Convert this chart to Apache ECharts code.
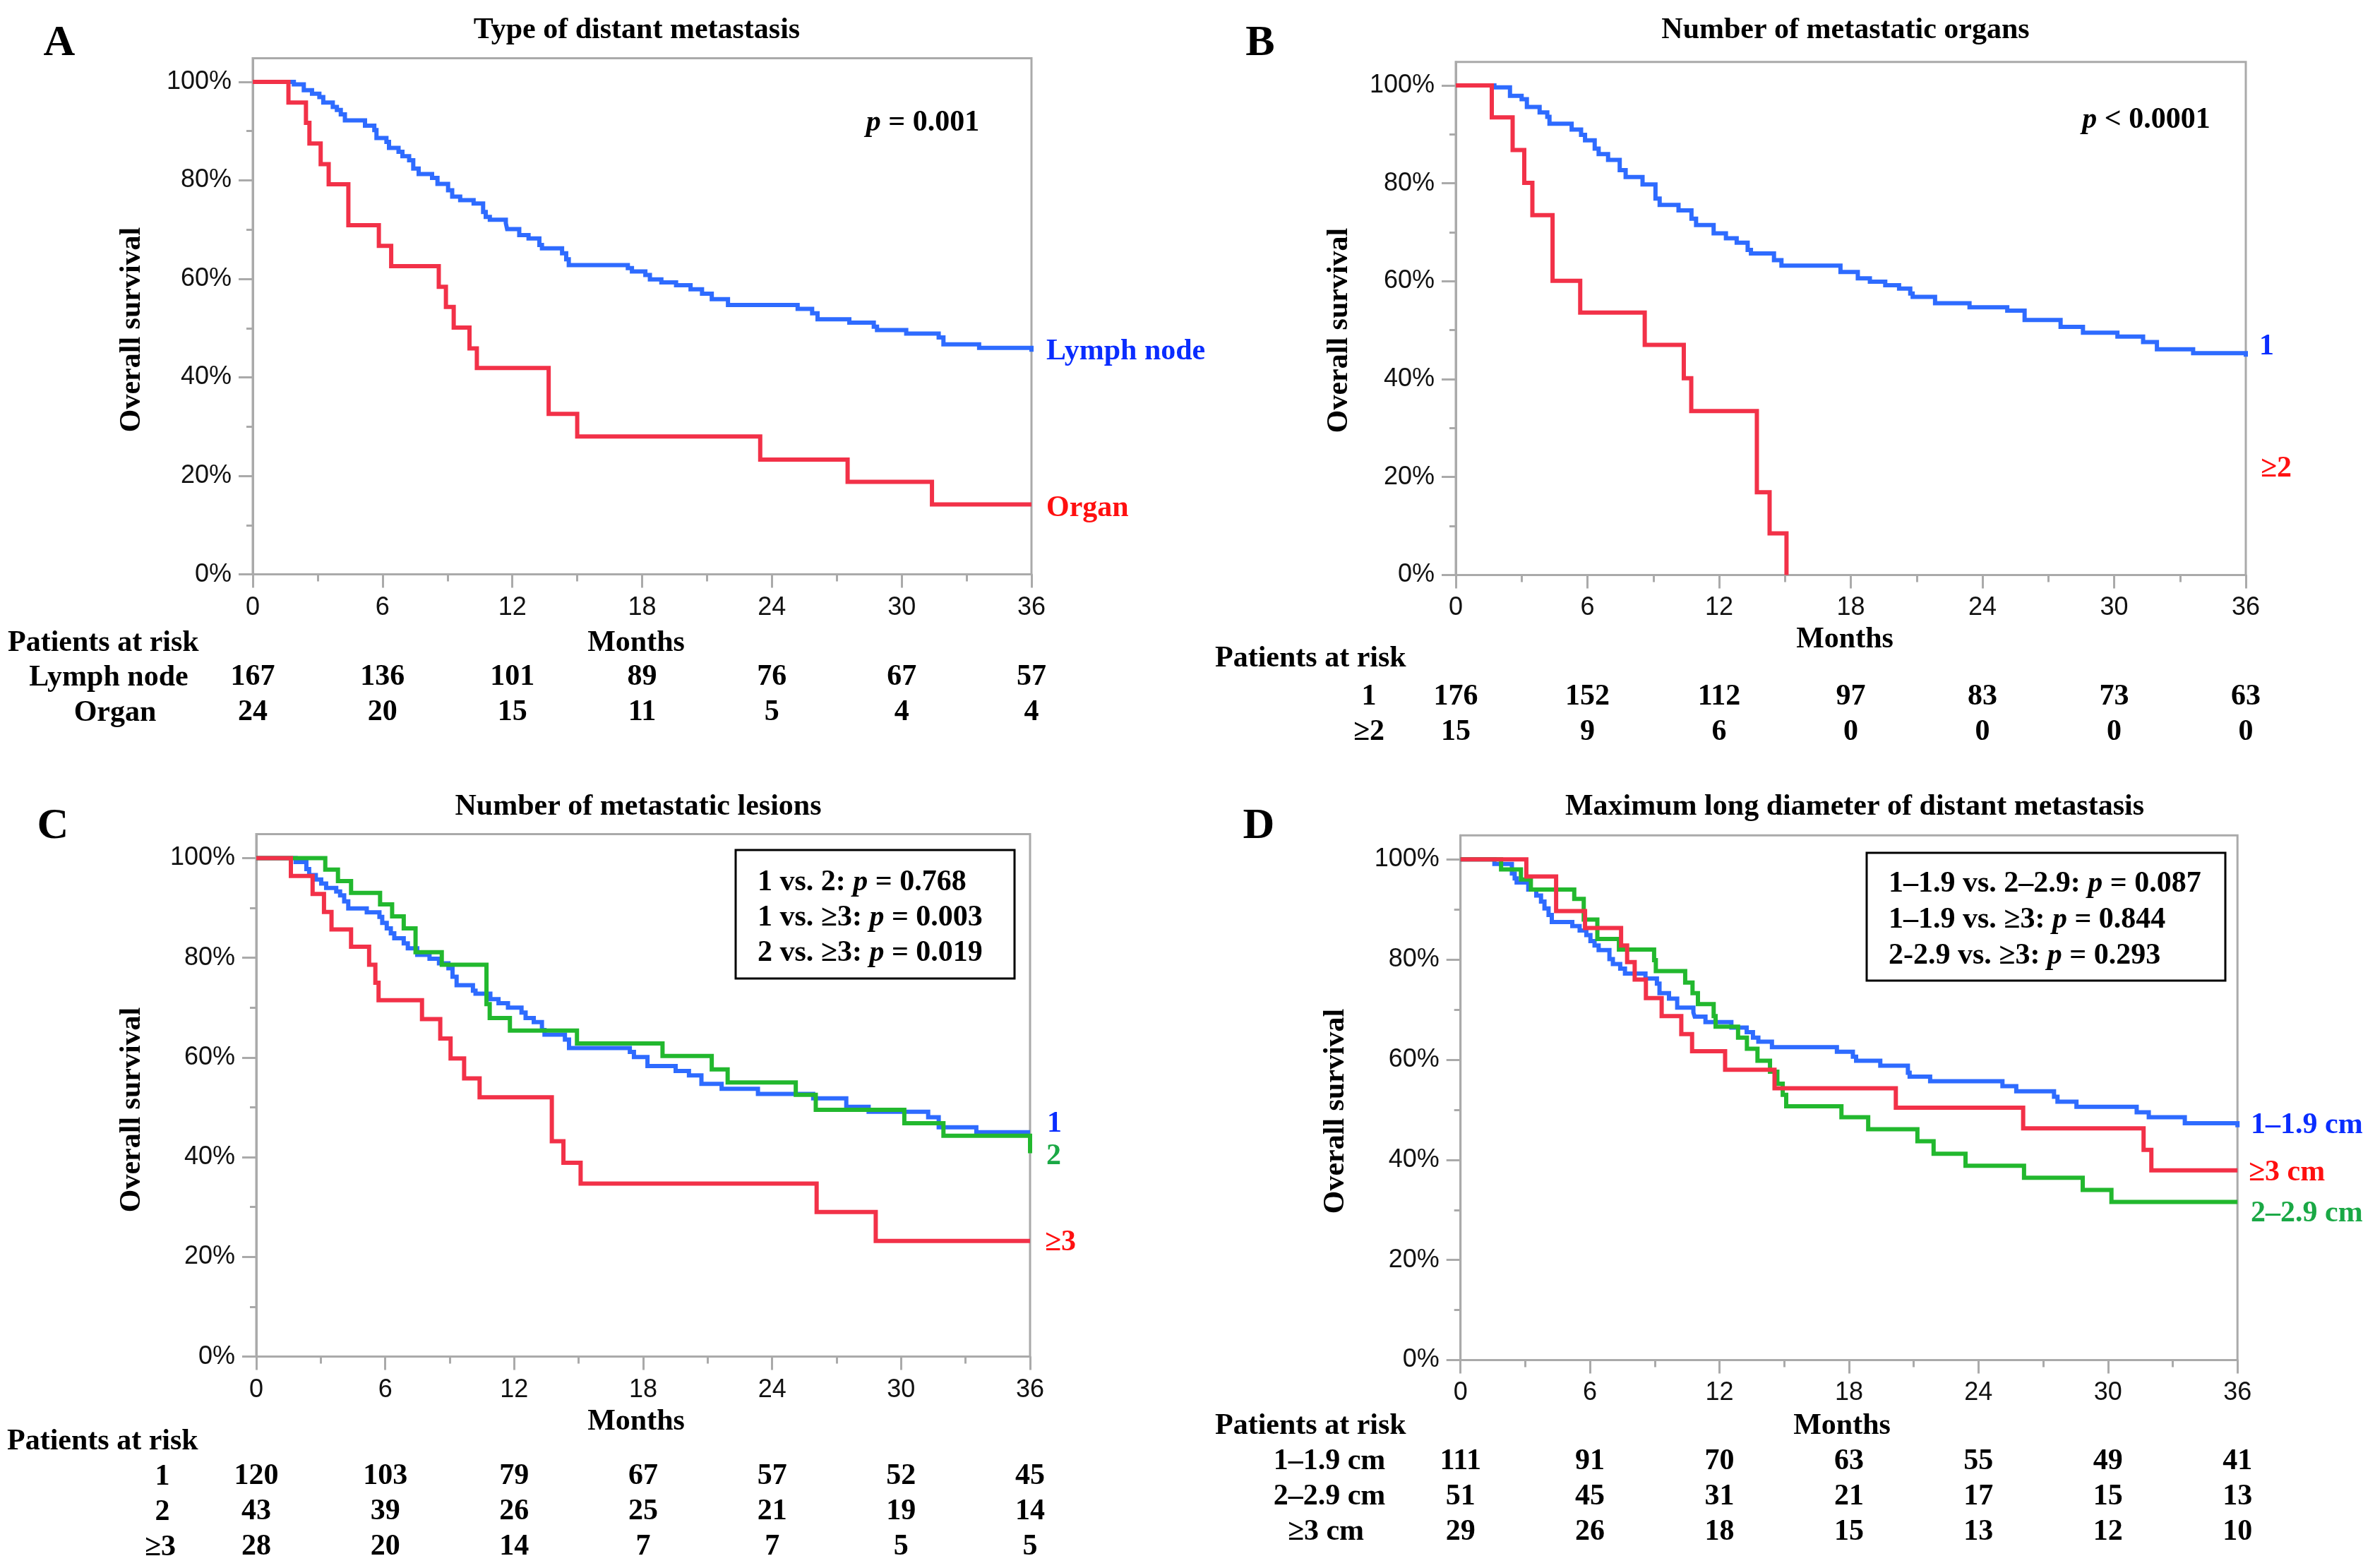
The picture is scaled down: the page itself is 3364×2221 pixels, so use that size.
<!DOCTYPE html>
<html><head><meta charset="utf-8">
<script src="https://cdn.jsdelivr.net/npm/echarts@6/dist/echarts.min.js"></script>
<style>html,body{margin:0;padding:0;background:#fff}#c{width:3364px;height:2221px}</style>
</head><body><div id="c"></div>
<script>
// ---------------- data ----------------
const MONTH_TICKS = [0, 6, 12, 18, 24, 30, 36];
const SURV_TICKS = [0, 20, 40, 60, 80, 100];
const SURV_MINOR = [10, 30, 50, 70, 90];

// Panel A: type of distant metastasis
const aLymphMonths = [0,1.90,2.36,2.74,3.08,3.26,3.70,3.89,4.07,4.26,5.19,5.62,5.72,6.18,6.30,6.74,6.92,7.23,7.42,7.67,8.29,8.54,9.03,9.22,9.59,10.21,10.65,10.77,10.96,11.70,11.76,12.32,12.75,13.25,13.37,14.30,14.49,14.61,17.34,17.53,18.15,18.36,18.89,19.57,20.24,20.77,21.22,21.97,25.19,25.86,26.11,27.58,28.71,28.86,30.21,31.71,31.93,33.58,36];
const aLymphSurv = [100,99.5,98.3,97.6,96.9,95.8,94.9,94.3,93.4,92.2,91.1,90.2,88.6,87.8,86.6,85.8,84.9,84.1,82.4,81.3,80.5,79.3,78.0,76.7,76.0,75.3,73.6,72.6,72.0,71.3,70.1,68.9,68.2,66.9,66.2,65.2,64.0,62.8,62.2,61.5,60.8,59.9,59.3,58.7,57.9,57.0,55.9,54.7,53.9,53.0,51.8,51.1,50.3,49.6,48.9,48.1,46.7,46.0,45.2];
const aOrganMonths = [0,1.65,2.46,2.62,3.14,3.51,4.42,5.83,6.40,8.60,8.93,9.29,10.02,10.36,13.68,15.0,23.46,27.5,31.4,36];
const aOrganSurv = [100,95.8,91.7,87.5,83.3,79.2,70.9,66.7,62.6,58.4,54.3,50.1,45.9,41.9,32.6,28.0,23.3,18.8,14.2,14.2];
const aRiskLymph = [167,136,101,89,76,67,57];
const aRiskOrgan = [24,20,15,11,5,4,4];

// Panel B: number of metastatic organs
const bOneMonths = [0,1.76,2.47,3.00,3.24,3.82,4.17,4.27,5.28,5.71,5.89,6.33,6.51,6.94,7.47,7.74,8.51,9.10,9.29,10.15,10.74,10.95,11.75,12.31,12.80,13.30,13.45,14.50,14.84,17.53,18.32,18.87,19.57,20.20,20.71,20.82,21.84,23.41,25.13,25.92,27.56,28.58,30.15,31.32,31.95,33.60,36];
const bOneSurv = [100,99.6,97.9,97.2,95.6,94.5,93.6,92.2,91.0,89.9,88.8,87.1,86.0,84.8,82.7,81.3,79.8,76.9,75.6,74.5,72.8,71.5,69.8,68.8,67.9,66.4,65.7,64.3,63.2,61.9,60.6,59.9,59.2,58.5,57.5,56.8,55.5,54.7,54.0,52.1,50.7,49.5,48.7,47.6,46.1,45.3,44.6];
const bTwoMonths = [0,1.64,2.59,3.12,3.49,4.41,5.67,8.61,10.39,10.73,13.72,14.30,15.07];
const bTwoSurv = [100,93.5,86.8,80.1,73.5,60.1,53.6,47.0,40.2,33.5,16.9,8.5,0];
const bRiskOne = [176,152,112,97,83,73,63];
const bRiskTwo = [15,9,6,0,0,0,0];

// Panel C: number of metastatic lesions
const cOneMonths = [0,1.83,2.33,2.46,2.77,3.02,3.25,3.72,3.90,4.09,4.28,5.14,5.73,5.86,6.07,6.26,6.42,6.86,7.05,7.49,8.06,8.50,8.94,9.13,9.32,10.08,10.20,10.89,11.27,11.71,12.34,12.53,12.91,13.29,13.41,14.36,14.55,17.38,17.57,18.20,19.51,20.13,20.71,21.65,23.34,25.91,27.45,28.49,31.26,31.75,33.50,36];
const cOneSurv = [100,99.2,97.8,96.6,95.7,94.9,94.0,93.3,92.5,91.3,89.9,89.1,88.2,87.0,85.9,84.9,83.9,82.9,81.9,80.6,79.8,78.9,77.9,76.2,74.5,73.4,72.8,71.7,70.9,70.0,69.0,67.9,67.1,65.5,64.6,63.6,61.9,61.1,60.1,58.3,57.3,56.4,54.7,53.7,52.7,51.8,50.1,49.1,48.0,46.0,45.0,45.0];
const cTwoMonths = [0,3.21,3.80,4.41,5.76,6.32,6.86,7.41,8.63,10.71,10.86,11.80,14.92,18.90,21.19,21.93,25.10,26.03,30.15,31.97,36];
const cTwoSurv = [100,97.7,95.4,93.0,90.7,88.3,85.9,81.1,78.6,70.7,67.9,65.4,62.8,60.3,57.6,55.0,52.5,49.5,46.8,44.3,40.8];
const cThreeMonths = [0,1.61,2.62,3.15,3.50,4.41,5.25,5.54,5.69,7.71,8.56,9.04,9.67,10.39,13.75,14.29,15.09,26.07,28.82,36];
const cThreeSurv = [100,96.4,92.8,89.2,85.7,82.2,78.6,75.0,71.5,67.7,63.8,59.8,55.8,52.0,43.2,38.9,34.7,29.0,23.2,23.2];
const cRiskOne = [120,103,79,67,57,52,45];
const cRiskTwo = [43,39,26,25,21,19,14];
const cRiskThree = [28,20,14,7,7,5,5];

// Panel D: maximum long diameter of distant metastasis
const dSmallMonths = [0,1.57,2.38,2.51,2.60,3.14,3.51,3.73,3.89,4.08,4.23,5.18,5.52,5.83,6.02,6.21,6.40,6.90,7.06,7.40,7.62,8.57,9.10,9.22,9.66,10.04,10.79,10.85,11.35,12.55,13.26,13.55,13.80,14.43,17.44,18.18,18.33,19.45,20.73,20.81,21.76,25.11,25.75,27.50,27.66,28.54,31.33,31.89,33.56,36];
const dSmallSurv = [100,99.1,97.2,96.2,95.4,94.0,92.8,91.6,90.2,88.9,87.5,86.7,85.8,84.9,83.7,82.8,81.9,80.1,79.1,78.2,77.2,76.2,75.2,73.3,72.2,70.4,69.4,68.6,67.5,66.4,65.5,64.4,63.6,62.5,61.6,60.6,59.8,58.8,57.4,56.6,55.7,54.7,53.7,52.6,51.6,50.6,49.5,48.5,47.3,46.5];
const dMidMonths = [0,1.88,2.80,3.26,5.27,5.71,6.34,7.34,8.97,9.05,10.41,10.75,11.00,11.73,11.82,12.86,13.27,13.76,14.34,14.68,14.93,15.09,17.65,18.89,21.17,21.92,23.40,26.11,28.83,30.16,36];
const dMidSurv = [100,98.0,96.0,94.0,92.1,88.0,84.1,82.0,79.9,77.7,75.4,73.3,71.1,68.7,66.6,64.4,62.2,59.8,57.6,55.2,53.0,50.7,48.5,46.1,43.7,41.2,38.8,36.4,34.0,31.6,31.6];
const dLargeMonths = [0,3.05,4.43,5.77,7.44,7.72,8.07,8.59,9.32,10.23,10.73,12.26,14.55,20.17,26.07,31.65,32.01,36];
const dLargeSurv = [100,96.6,89.7,86.3,82.8,79.5,76.0,72.3,68.7,65.1,61.7,58.0,54.3,50.4,46.3,42.0,37.9,37.9];
const dRiskSmall = [111,91,70,63,55,49,41];
const dRiskMid = [51,45,31,21,17,15,13];
const dRiskLarge = [29,26,18,15,13,12,10];

// ---------------- styling ----------------
const SERIF = 'Liberation Serif';
const SANS = 'Liberation Sans';
const AXIS_GREY = '#aaaaaa';
const LINE_BLUE = '#2e6bff', LINE_RED = '#f23148', LINE_GREEN = '#22b82e';
const TXT_BLUE = '#0a2dff', TXT_RED = '#ff1010', TXT_GREEN = '#1aa845';
const YMAX = 104.8;
const DY = 2; // small vertical nudge for serif text

const grids = [
  {left: 358, top: 82.5, width: 1103, height: 731.1},
  {left: 2062, top: 87.8, width: 1119, height: 726.6},
  {left: 363, top: 1181.5, width: 1096, height: 740.1},
  {left: 2068.7, top: 1183.3, width: 1100.5, height: 743.2}
];
// risk table rows: [array, distance below axis]
const riskRows = [
  [[aRiskLymph, 146], [aRiskOrgan, 196]],
  [[bRiskOne, 173], [bRiskTwo, 223]],
  [[cRiskOne, 170], [cRiskTwo, 220], [cRiskThree, 270]],
  [[dRiskSmall, 144], [dRiskMid, 194], [dRiskLarge, 244]]
];

const xAxes = [], yAxes = [], mainX = [], mainY = [];
grids.forEach((g, gi) => {
  mainX.push(xAxes.length);
  xAxes.push({
    type: 'value', gridIndex: gi, min: 0, max: 36, interval: 6, position: 'bottom',
    axisLine: {show: true, onZero: false, lineStyle: {color: AXIS_GREY, width: 3}},
    axisTick: {show: true, length: 19, lineStyle: {color: AXIS_GREY, width: 3}},
    minorTick: {show: true, splitNumber: 2, length: 10, lineStyle: {color: AXIS_GREY, width: 3}},
    splitLine: {show: false}, minorSplitLine: {show: false},
    axisLabel: {margin: 47, verticalAlign: 'middle', fontFamily: SANS, fontSize: 36, color: '#111'}
  });
  riskRows[gi].forEach(([arr, m]) => {
    xAxes.push({
      type: 'value', gridIndex: gi, min: 0, max: 36, interval: 6, position: 'bottom',
      axisLine: {show: false}, axisTick: {show: false}, splitLine: {show: false},
      axisLabel: {margin: m, verticalAlign: 'middle', fontFamily: SERIF, fontWeight: 'bold', fontSize: 42, color: '#000',
        customValues: MONTH_TICKS,
        formatter: v => String(arr[MONTH_TICKS.indexOf(v)])}
    });
  });
  mainY.push(yAxes.length);
  yAxes.push({
    type: 'value', gridIndex: gi, min: 0, max: YMAX, position: 'left',
    axisLine: {show: true, onZero: false, lineStyle: {color: AXIS_GREY, width: 3}},
    axisTick: {show: true, length: 20, customValues: SURV_TICKS, lineStyle: {color: AXIS_GREY, width: 3}},
    axisLabel: {customValues: SURV_TICKS, margin: 30, formatter: '{value}%', fontFamily: SANS, fontSize: 36, color: '#111'},
    splitLine: {show: false}
  });
  yAxes.push({
    type: 'value', gridIndex: gi, min: 0, max: YMAX, position: 'left',
    axisLine: {show: false},
    axisTick: {show: true, length: 9, customValues: SURV_MINOR, lineStyle: {color: AXIS_GREY, width: 3}},
    axisLabel: {show: false}, splitLine: {show: false}
  });
});

function km(gi, name, months, surv, color) {
  return {
    type: 'line', name, step: 'end', xAxisIndex: mainX[gi], yAxisIndex: mainY[gi],
    data: months.map((m, i) => [m, surv[i]]),
    showSymbol: false, symbol: 'none', silent: true,
    lineStyle: {color, width: 6, join: 'miter', cap: 'butt'}
  };
}
const series = [
  km(0, 'Lymph node', aLymphMonths, aLymphSurv, LINE_BLUE),
  km(0, 'Organ', aOrganMonths, aOrganSurv, LINE_RED),
  km(1, '1', bOneMonths, bOneSurv, LINE_BLUE),
  km(1, '≥2', bTwoMonths, bTwoSurv, LINE_RED),
  km(2, '1', cOneMonths, cOneSurv, LINE_BLUE),
  km(2, '2', cTwoMonths, cTwoSurv, LINE_GREEN),
  km(2, '≥3', cThreeMonths, cThreeSurv, LINE_RED),
  km(3, '1–1.9 cm', dSmallMonths, dSmallSurv, LINE_BLUE),
  km(3, '2–2.9 cm', dMidMonths, dMidSurv, LINE_GREEN),
  km(3, '≥3 cm', dLargeMonths, dLargeSurv, LINE_RED)
];

const RICH = {i: {fontStyle: 'italic', fontWeight: 'bold', fontSize: 42, fontFamily: SERIF, fill: '#000'}};
function T(x, y, text, o = {}) {
  return {
    type: 'text', x, y: y + DY, rotation: o.rot || 0, silent: true, z: 100,
    style: {text, fontFamily: SERIF, fontWeight: 'bold', fontSize: o.size || 42, fill: o.color || '#000',
      align: o.align || 'center', verticalAlign: o.va || 'middle', rich: o.rich, lineHeight: o.lh}
  };
}
const graphics = [
  // titles
  T(902, 41, 'Type of distant metastasis'),
  T(2614, 41, 'Number of metastatic organs'),
  T(904, 1141, 'Number of metastatic lesions'),
  T(2627, 1141, 'Maximum long diameter of distant metastasis'),
  // panel letters
  T(84, 60, 'A', {size: 62}), T(1785, 60, 'B', {size: 62}),
  T(75, 1169, 'C', {size: 62}), T(1783, 1169, 'D', {size: 62}),
  // y names
  T(187, 465, 'Overall survival', {rot: Math.PI / 2}),
  T(1897, 466, 'Overall survival', {rot: Math.PI / 2}),
  T(187, 1570, 'Overall survival', {rot: Math.PI / 2}),
  T(1892, 1572, 'Overall survival', {rot: Math.PI / 2}),
  // x names
  T(901, 909, 'Months'), T(2613, 904, 'Months'), T(901, 2012, 'Months'), T(2609, 2018, 'Months'),
  // risk headers
  T(11, 909, 'Patients at risk', {align: 'left'}), T(1721, 931, 'Patients at risk', {align: 'left'}),
  T(10, 2040, 'Patients at risk', {align: 'left'}), T(1721, 2018, 'Patients at risk', {align: 'left'}),
  // risk row labels
  T(154, 958, 'Lymph node'), T(163, 1008, 'Organ'),
  T(1939, 985, '1'), T(1939, 1035, '≥2'),
  T(230, 2090, '1'), T(230, 2140, '2'), T(227, 2190, '≥3'),
  T(1883, 2068, '1–1.9 cm'), T(1883, 2118, '2–2.9 cm'), T(1878, 2168, '≥3 cm'),
  // curve labels
  T(1482, 496, 'Lymph node', {align: 'left', color: TXT_BLUE}),
  T(1482, 718, 'Organ', {align: 'left', color: TXT_RED}),
  T(3200, 489, '1', {align: 'left', color: TXT_BLUE}),
  T(3202, 662, '≥2', {align: 'left', color: TXT_RED}),
  T(1483, 1590, '1', {align: 'left', color: TXT_BLUE}),
  T(1482, 1636, '2', {align: 'left', color: TXT_GREEN}),
  T(1480, 1758, '≥3', {align: 'left', color: TXT_RED}),
  T(3188, 1592, '1–1.9 cm', {align: 'left', color: TXT_BLUE}),
  T(3185, 1659, '≥3 cm', {align: 'left', color: TXT_RED}),
  T(3188, 1717, '2–2.9 cm', {align: 'left', color: TXT_GREEN}),
  // p values
  T(1307, 172, '{i|p} = 0.001', {rich: RICH}),
  T(3040, 168, '{i|p} < 0.0001', {rich: RICH}),
  // comparison boxes
  {type: 'rect', silent: true, z: 90, shape: {x: 1042, y: 1204, width: 395, height: 182},
    style: {fill: '#fff', stroke: '#000', lineWidth: 3}},
  T(1073, 1223, '1 vs. 2: {i|p} = 0.768\n1 vs. ≥3: {i|p} = 0.003\n2 vs. ≥3: {i|p} = 0.019',
    {align: 'left', va: 'top', rich: RICH, lh: 50}),
  {type: 'rect', silent: true, z: 90, shape: {x: 2644, y: 1208, width: 508, height: 181},
    style: {fill: '#fff', stroke: '#000', lineWidth: 3}},
  T(2675, 1225, '1–1.9 vs. 2–2.9: {i|p} = 0.087\n1–1.9 vs. ≥3: {i|p} = 0.844\n2-2.9 vs. ≥3: {i|p} = 0.293',
    {align: 'left', va: 'top', rich: RICH, lh: 51})
];

const chart = echarts.init(document.getElementById('c'), null, {width: 3364, height: 2221});
chart.setOption({
  animation: false,
  backgroundColor: '#fff',
  grid: grids.map(g => Object.assign({show: true, borderColor: AXIS_GREY, borderWidth: 3, containLabel: false}, g)),
  xAxis: xAxes,
  yAxis: yAxes,
  series,
  graphic: graphics
});
</script>
</body></html>
